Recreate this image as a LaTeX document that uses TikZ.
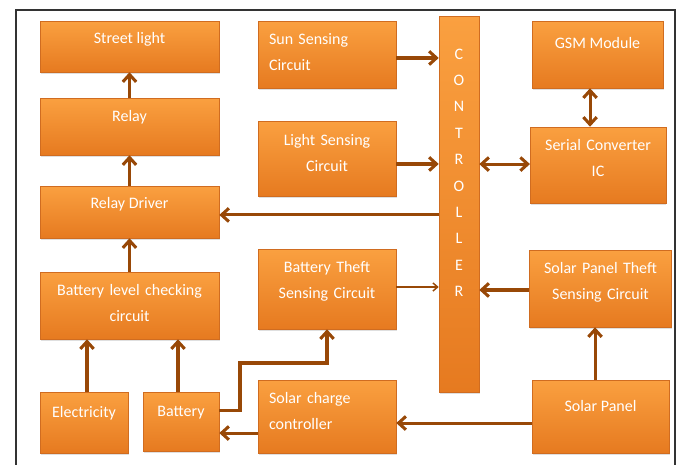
\documentclass[tikz,border=0pt]{standalone}
\usepackage{fontspec}
\setmainfont{Carlito}
\usetikzlibrary{arrows.meta,shadows}
\definecolor{boxtop}{HTML}{FAA040}
\definecolor{boxbot}{HTML}{E67A20}
\definecolor{boxline}{HTML}{D06C20}
\definecolor{wire}{HTML}{984807}

\begin{document}
\begin{tikzpicture}[x=0.75pt,y=-0.75pt,
    >={Straight Barb[length=5.5pt,width=10pt]},
    blk/.style={rectangle,draw=boxline,top color=boxtop,bottom color=boxbot,
      text=white,font=\fontsize{12}{19.5}\selectfont,
      drop shadow={opacity=0.25,shadow xshift=0.5pt,shadow yshift=-1.5pt}},
    wh/.style 2 args={minimum width=#1*0.75pt,minimum height=#2*0.75pt},
    lift/.style={text height=8pt,text depth=#1},
    ctext/.style={text width=#1,align=center},
    ltext/.style={text width=#1,align=left},
    arr/.style={draw=wire,line width=2.3pt,->},
    dbl/.style={draw=wire,line width=2.3pt,<->},
    thinarr/.style={draw=wire,line width=1.1pt,-{Straight Barb[length=3.5pt,width=6pt]}}]
  \useasboundingbox (0,0) rectangle (680,464);
  \draw[line width=0.8pt,black!80] (16,10) rectangle (675,480);

  % left column
  \node[blk,wh={179}{51},lift=11.8pt] (street) at (129.5,46.5) {Street light};
  \node[blk,wh={179}{57},lift=14.8pt] (relay) at (129.5,126.5) {Relay};
  \node[blk,wh={179}{52},lift=12.6pt] (driver) at (129.5,212) {Relay Driver};
  \node[blk,wh={179}{67},lift=22.3pt,ctext=125pt] (level) at (129.5,305.5) {Battery level checking\\circuit};
  \node[blk,wh={88}{61},lift=14.8pt] (elec) at (84,422.5) {Electricity};
  \node[blk,wh={76}{59},lift=14.8pt] (batt) at (181,421.5) {Battery};

  % middle column
  \node[blk,wh={138}{67},lift=23.1pt,ltext=87pt] (sun) at (327,54.5) {Sun Sensing\\Circuit};
  \node[blk,wh={138}{75},lift=26.9pt,ctext=95pt] (light) at (327,158.5) {Light Sensing\\Circuit};
  \node[blk,wh={138}{80},lift=32.1pt,ctext=95pt] (btheft) at (327,289) {Battery Theft\\Sensing Circuit};
  \node[blk,wh={138}{73},lift=27.6pt,ltext=87pt] (charge) at (327,416.5) {Solar charge\\controller};

  \node[blk,wh={40}{376},font=\fontsize{12}{19.8}\selectfont,lift=225.3pt,ctext=20pt] (ctrl) at (459,204)
    {C\\O\\N\\T\\R\\O\\L\\L\\E\\R};

  % right column
  \node[blk,wh={131}{67},lift=16.4pt] (gsm) at (597.5,54.5) {GSM Module};
  \node[blk,wh={132}{76},lift=29.1pt,ctext=95pt] (serial) at (598,165) {Serial Converter\\IC};
  \node[blk,wh={137}{77},lift=30.6pt,ctext=100pt] (sptheft) at (600.5,288.5) {Solar Panel Theft\\Sensing Circuit};
  \node[blk,wh={137}{73},lift=14.8pt] (panel) at (600.5,416.5) {Solar Panel};

  % connections
  \draw[arr] (relay) -- (street);
  \draw[arr] (driver) -- (relay);
  \draw[arr] (level) -- (driver);
  \draw[arr] ([xshift=2.25pt]elec.north) -- ([xshift=2.25pt]elec.north |- level.south);
  \draw[arr] ([xshift=-2.25pt]batt.north) -- ([xshift=-2.25pt]batt.north |- level.south);
  \draw[arr] ([yshift=8.6pt]batt.east) -| (240,363) -| (btheft.south);
  \draw[arr] ([yshift=-12.4pt]charge.west) -- ([yshift=-12.4pt]charge.west -| batt.east);
  \draw[arr] ([yshift=-2.2pt]driver.east -| ctrl.west) -- ([yshift=-2.2pt]driver.east);
  \draw[arr] ([yshift=-2.6pt]sun.east) -- ([yshift=-2.6pt]sun.east -| ctrl.west);
  \draw[arr] ([yshift=-4.1pt]light.east) -- ([yshift=-4.1pt]light.east -| ctrl.west);
  \draw[thinarr] ([yshift=1.5pt]btheft.east) -- ([yshift=1.5pt]btheft.east -| ctrl.west);
  \draw[dbl] ([yshift=0.7pt]serial.west -| ctrl.east) -- ([yshift=0.7pt]serial.west);
  \draw[dbl] ([xshift=-5.6pt]gsm.south) -- ([xshift=-5.6pt]gsm.south |- serial.north);
  \draw[arr] ([yshift=-1.1pt]sptheft.west) -- ([yshift=-1.1pt]sptheft.west -| ctrl.east);
  \draw[arr] ([xshift=-4.1pt]panel.north) -- ([xshift=-4.1pt]panel.north |- sptheft.south);
  \draw[arr] ([yshift=-4.9pt]panel.west) -- ([yshift=-4.9pt]panel.west -| charge.east);
\end{tikzpicture}
\end{document}
